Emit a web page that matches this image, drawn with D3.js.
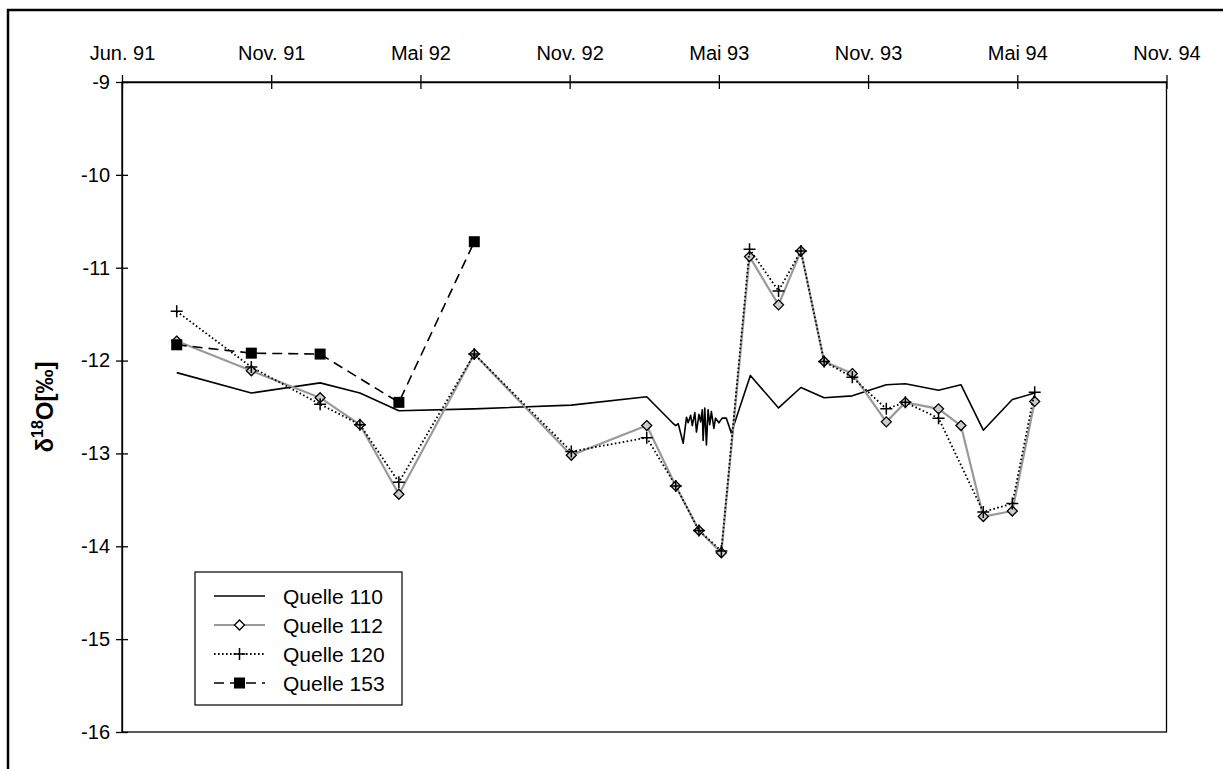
<!DOCTYPE html>
<html><head><meta charset="utf-8">
<script src="https://cdn.jsdelivr.net/npm/d3@7"></script>
<style>
html,body{margin:0;padding:0;background:#fff;}
svg{display:block;font-family:Arial,"Liberation Sans",sans-serif;}
</style></head>
<body><svg id="c" width="1223" height="769"></svg>
<script>
const xTickLabels = ["Jun. 91","Nov. 91","Mai 92","Nov. 92","Mai 93","Nov. 93","Mai 94","Nov. 94"];
const yTicks = [-9,-10,-11,-12,-13,-14,-15,-16];
const seriesNames = ["Quelle 110","Quelle 112","Quelle 120","Quelle 153"];

const q110Dates = ["1991-08-06","1991-11-04","1992-01-26","1992-03-14","1992-04-30","1992-07-30","1992-11-24","1993-02-23",
 "1993-03-26","1993-03-30","1993-04-02","1993-04-08","1993-04-12","1993-04-14","1993-04-17","1993-04-19","1993-04-22","1993-04-24",
 "1993-04-27","1993-04-29","1993-05-01","1993-05-02","1993-05-04","1993-05-06","1993-05-08","1993-05-10","1993-05-12","1993-05-15",
 "1993-05-17","1993-05-21","1993-05-25","1993-05-30","1993-06-02","1993-06-05",
 "1993-06-28","1993-08-01","1993-08-28","1993-09-25","1993-10-29","1993-12-09","1994-01-01","1994-02-10","1994-03-09","1994-04-05","1994-05-10","1994-06-06"];
const q110Values = [-12.13,-12.35,-12.24,-12.35,-12.54,-12.52,-12.48,-12.39,
 -12.67,-12.70,-12.68,-12.89,-12.61,-12.67,-12.59,-12.70,-12.56,-12.77,
 -12.58,-12.66,-12.53,-12.86,-12.51,-12.91,-12.53,-12.69,-12.55,-12.73,
 -12.62,-12.67,-12.62,-12.62,-12.70,-12.78,
 -12.16,-12.51,-12.29,-12.40,-12.38,-12.26,-12.25,-12.32,-12.26,-12.75,-12.42,-12.35];

const q112Dates = ["1991-08-06","1991-11-04","1992-01-26","1992-03-14","1992-04-30","1992-07-30","1992-11-24","1993-02-23","1993-03-30","1993-04-27","1993-05-24",
 "1993-06-27","1993-08-01","1993-08-28","1993-09-25","1993-10-29","1993-12-09","1994-01-01","1994-02-10","1994-03-09","1994-04-05","1994-05-10","1994-06-06"];
const q112Values = [-11.79,-12.11,-12.40,-12.69,-13.44,-11.93,-13.02,-12.70,-13.35,-13.83,-14.07,
 -10.88,-11.40,-10.82,-12.01,-12.14,-12.66,-12.45,-12.52,-12.70,-13.68,-13.62,-12.44];

const q120Dates = ["1991-08-06","1991-11-04","1992-01-26","1992-03-14","1992-04-30","1992-07-30","1992-11-24","1993-02-23","1993-03-30","1993-04-27","1993-05-24",
 "1993-06-27","1993-08-01","1993-08-28","1993-09-25","1993-10-29","1993-12-09","1994-01-01","1994-02-10","1994-04-05","1994-05-10","1994-06-06"];
const q120Values = [-11.47,-12.07,-12.47,-12.69,-13.31,-11.93,-12.98,-12.83,-13.35,-13.83,-14.05,
 -10.80,-11.25,-10.82,-12.01,-12.18,-12.52,-12.45,-12.62,-13.63,-13.54,-12.34];

const q153Dates = ["1991-08-06","1991-11-04","1992-01-26","1992-04-30","1992-07-30"];
const q153Values = [-11.83,-11.92,-11.93,-12.45,-10.72];

const parse = d3.utcParse("%Y-%m-%d");
const start = parse("1991-06-01");
const DAY = 86400000;
const tickDates = xTickLabels.map((_, i) => new Date(start.getTime() + i * 180 * DAY));

const svg = d3.select("#c");
const L = 122, R = 1166.5, T = 82, B = 732;
const x = d3.scaleUtc().domain([tickDates[0], tickDates[tickDates.length - 1]]).range([L, R]);
const y = d3.scaleLinear().domain([-16, -9]).range([B, T]);

// outer frame
svg.append("rect").attr("x", 8).attr("y", 10).attr("width", 1400).attr("height", 900)
  .attr("fill", "none").attr("stroke", "#000").attr("stroke-width", 2.5);

// plot border
svg.append("rect").attr("x", L).attr("y", T).attr("width", R - L).attr("height", B - T)
  .attr("fill", "none").attr("stroke", "#000").attr("stroke-width", 1.3);

// top axis
const xAxis = d3.axisTop(x).tickValues(tickDates).tickFormat((d, i) => xTickLabels[i]).tickSizeInner(7).tickSizeOuter(0).tickPadding(14);
const gx = svg.append("g").attr("transform", `translate(0,${T})`).call(xAxis);
gx.select(".domain").attr("stroke-width", 1.3);
gx.selectAll(".tick line").attr("y2", 7).attr("y1", -7).attr("stroke-width", 1.3);
gx.selectAll(".tick text").attr("font-size", 20).attr("font-family", "Arial, 'Liberation Sans', sans-serif").attr("fill", "#000").attr("y", -22);

// left axis
const yAxis = d3.axisLeft(y).tickValues(yTicks).tickFormat(d => String(d)).tickSizeInner(6).tickSizeOuter(0).tickPadding(12);
const gy = svg.append("g").attr("transform", `translate(${L},0)`).call(yAxis);
gy.select(".domain").attr("stroke-width", 1.3);
gy.selectAll(".tick line").attr("x1", 6).attr("x2", -6).attr("stroke-width", 1.3);
gy.selectAll(".tick text").attr("font-size", 20).attr("font-family", "Arial, 'Liberation Sans', sans-serif").attr("fill", "#000").attr("x", -12);

// y label
const yl = svg.append("text").attr("transform", `translate(53,${(T + B) / 2}) rotate(-90)`)
  .attr("text-anchor", "middle").attr("font-size", 24).attr("font-weight", "bold").attr("fill", "#000");
yl.append("tspan").text("δ");
yl.append("tspan").attr("font-size", 16).attr("dy", -10).text("18");
yl.append("tspan").attr("dy", 10).text("O[‰]");

function mk(dates, vals) { return dates.map((d, i) => ({ x: x(parse(d)), y: y(vals[i]) })); }
const line = d3.line().x(d => d.x).y(d => d.y);

const s110 = mk(q110Dates, q110Values);
const s112 = mk(q112Dates, q112Values);
const s120 = mk(q120Dates, q120Values);
const s153 = mk(q153Dates, q153Values);

const styles = [
  { data: s110, stroke: "#000", width: 1.6, dash: null, marker: null },
  { data: s112, stroke: "#999", width: 2.2, dash: null, marker: "diamond" },
  { data: s120, stroke: "#000", width: 1.8, dash: "1.6,2.4", marker: "plus" },
  { data: s153, stroke: "#000", width: 1.6, dash: "10,6", marker: "square" }
];

function drawMarker(g, type, cx, cy, legend) {
  if (type === "diamond") {
    const r = 5;
    g.append("path").attr("d", `M${cx},${cy - r}L${cx + r},${cy}L${cx},${cy + r}L${cx - r},${cy}Z`)
      .attr("fill", legend ? "#fff" : "#ccc").attr("stroke", "#000").attr("stroke-width", 1.3);
  } else if (type === "plus") {
    const r = 6;
    g.append("path").attr("d", `M${cx - r},${cy}H${cx + r}M${cx},${cy - r}V${cy + r}`)
      .attr("stroke", "#000").attr("stroke-width", 1.5).attr("fill", "none");
  } else if (type === "square") {
    const r = 5.5;
    g.append("rect").attr("x", cx - r).attr("y", cy - r).attr("width", 2 * r).attr("height", 2 * r).attr("fill", "#000");
  }
}

const gs = svg.append("g");
styles.forEach(s => {
  const g = gs.append("g");
  g.append("path").attr("d", line(s.data)).attr("fill", "none").attr("stroke", s.stroke)
    .attr("stroke-width", s.width).attr("stroke-dasharray", s.dash).attr("stroke-linejoin", "round");
  if (s.marker) s.data.forEach(p => drawMarker(g, s.marker, p.x, p.y, false));
});

// legend
const lg = svg.append("g");
lg.append("rect").attr("x", 195).attr("y", 572).attr("width", 207).attr("height", 133)
  .attr("fill", "#fff").attr("stroke", "#000").attr("stroke-width", 1.2);
styles.forEach((s, i) => {
  const cy = 596 + i * 29;
  lg.append("line").attr("x1", 214).attr("x2", 265).attr("y1", cy).attr("y2", cy)
    .attr("stroke", s.stroke).attr("stroke-width", s.width).attr("stroke-dasharray", s.dash);
  if (s.marker) drawMarker(lg, s.marker, 239.5, cy, true);
  lg.append("text").attr("x", 283).attr("y", cy).attr("dy", "0.36em").attr("font-size", 21).attr("fill", "#000").text(seriesNames[i]);
});
</script>
</body></html>
